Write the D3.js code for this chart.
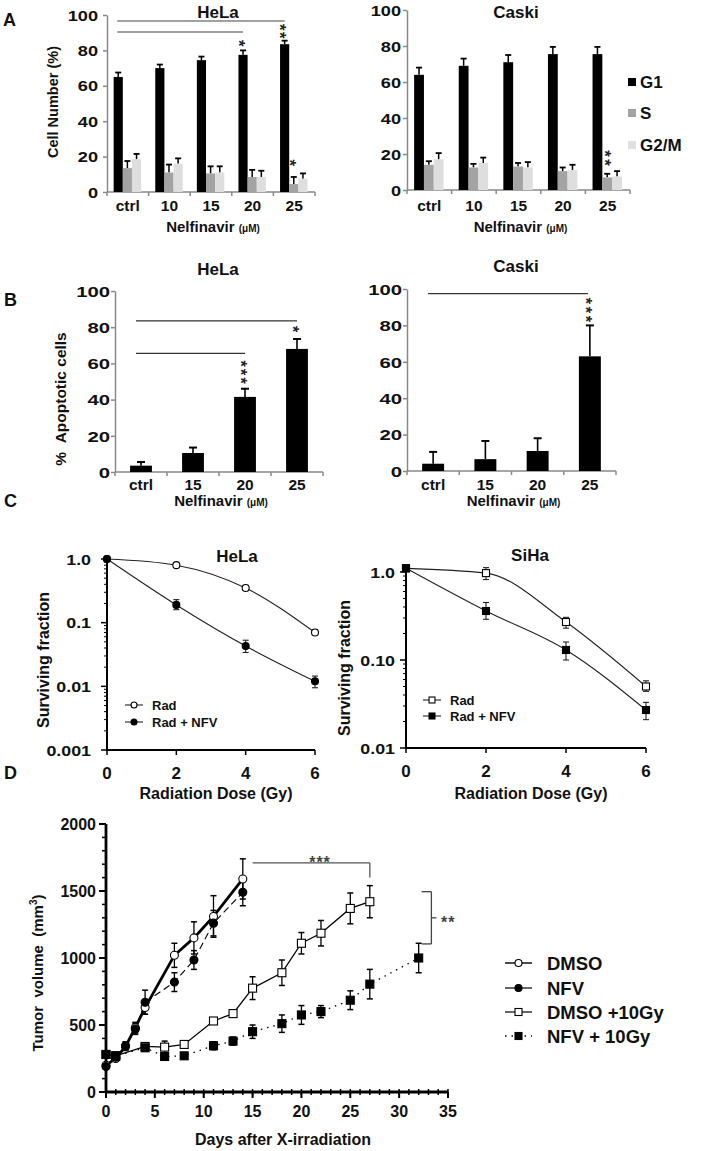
<!DOCTYPE html>
<html><head><meta charset="utf-8">
<script src="https://cdn.jsdelivr.net/npm/d3@7"></script>
<style>
body{margin:0;background:#fff}
text{font-family:"Liberation Sans",Arial,Helvetica,sans-serif;font-weight:bold;fill:#111}
</style>
</head><body>
<svg id="c" width="709" height="1151" xmlns="http://www.w3.org/2000/svg"></svg>
<script>
// ---------------- DATA ----------------
// Panel A: cell cycle
const cycleCats = ["ctrl","10","15","20","25"];
const phases = ["G1","S","G2/M"];
const cycleTicks = [0,20,40,60,80,100];
const helaG1 = [65,70,74.5,77.5,83.5];
const helaG1Err = [2.5,2,2,2.5,2];
const helaS = [13.5,11,10.5,8.5,4.5];
const helaSErr = [4,4.5,4,4,4];
const helaG2 = [18.5,16,11,8.5,7.5];
const helaG2Err = [3,3,3.5,3.5,3];
const caskiG1 = [64,69,71,75.5,75.5];
const caskiG1Err = [4,4,4,4,4];
const caskiS = [14,12.5,13,10.5,7];
const caskiSErr = [2,2,2,2,2];
const caskiG2 = [17,15,12.5,11,7.5];
const caskiG2Err = [3.5,3,3,3,3];
// Panel B: apoptosis
const apoCats = ["ctrl","15","20","25"];
const helaApo = [3.5,10.5,41.5,68];
const helaApoErr = [2,3,4.5,5.5];
const caskiApo = [4,6.5,11,63];
const caskiApoErr = [6.5,10,7,17];
// Panel C: survival
const doses = [0,2,4,6];
const helaRad = [1.0,0.80,0.35,0.07];
const helaRadLo = [1.0,0.76,0.32,0.065];
const helaRadHi = [1.0,0.85,0.385,0.078];
const helaNfv = [1.0,0.19,0.043,0.012];
const helaNfvLo = [1.0,0.16,0.034,0.0095];
const helaNfvHi = [1.0,0.23,0.053,0.0145];
const sihaRad = [1.1,0.97,0.27,0.05];
const sihaRadLo = [1.1,0.82,0.23,0.044];
const sihaRadHi = [1.1,1.12,0.305,0.058];
const sihaNfv = [1.1,0.36,0.13,0.027];
const sihaNfvLo = [1.1,0.29,0.10,0.021];
const sihaNfvHi = [1.1,0.45,0.16,0.033];
const helaSurvTicks = [1,0.1,0.01,0.001];
const helaSurvLabels = ["1.0","0.1","0.01","0.001"];
const sihaSurvTicks = [1,0.1,0.01];
const sihaSurvLabels = ["1.0","0.10","0.01"];
// Panel D: tumor volume
const dmsoDays = [0,1,2,3,4,7,9,11,14];
const dmsoVol = [200,250,340,480,630,1020,1150,1310,1590];
const dmsoErr = [15,20,30,40,50,90,120,155,150];
const nfvDays = [0,1,2,3,4,7,9,11,14];
const nfvVol = [190,260,345,470,670,820,985,1260,1490];
const nfvErr = [15,20,30,40,90,70,70,95,100];
const g10Days = [0,1,4,6,8,11,13,15,18,20,22,25,27];
const g10Vol = [280,270,340,335,355,530,585,775,890,1110,1185,1370,1420];
const g10Err = [20,15,25,45,25,15,15,85,95,80,95,115,120];
const n10Days = [0,1,4,6,8,11,13,15,18,20,22,25,27,32];
const n10Vol = [280,270,330,265,270,345,380,450,510,575,600,685,805,1000];
const n10Err = [20,15,25,20,15,30,30,50,65,70,45,70,110,110];
const volTicks = [0,500,1000,1500,2000];
const dayTicks = [0,5,10,15,20,25,30,35];

// ---------------- HELPERS ----------------
const svg = d3.select("#c");
function T(x,y,s,size,anchor){
  return svg.append("text").attr("x",x).attr("y",y).attr("font-size",size)
    .attr("text-anchor",anchor||"middle").text(s);
}
function RT(x,y,s,size){
  return svg.append("text").attr("transform",`translate(${x},${y}) rotate(-90)`)
    .attr("dy","0.35em").attr("font-size",size).attr("text-anchor","middle").text(s);
}
function L(x1,y1,x2,y2,col,w){
  return svg.append("line").attr("x1",x1).attr("y1",y1).attr("x2",x2).attr("y2",y2)
    .attr("stroke",col||"#000").attr("stroke-width",w||1);
}
// vertically stacked asterisks: one text run rotated 90deg; (x, yMid) = centre of the stack
function vstars(x,yMid,n,size,gap,col){
  const adv = 0.389*size;
  const ls = Math.max(0,gap-adv);
  svg.append("text").attr("transform",`translate(${x},${yMid}) rotate(90)`)
    .attr("x",ls/2).attr("y",0.6*size).attr("text-anchor","middle").attr("font-size",size)
    .attr("letter-spacing",ls).style("fill",col||"#222").text("*".repeat(n));
}
function stretchLabels(sel, sx, off){
  sel.selectAll(".tick text").each(function(){
    d3.select(this).attr("transform",`scale(${sx},1)`).attr("x",-off/sx);
  });
}
function nelf(x,y){
  const t = svg.append("text").attr("x",x).attr("y",y).attr("text-anchor","middle").attr("font-size",15);
  t.append("tspan").text("Nelfinavir ");
  t.append("tspan").attr("font-size",10).text("(\u03bcM)");
}

// ---------------- PANEL A ----------------
const phaseColors = ["#000000","#a3a3a3","#dedede"];
function cyclePanel(c){
  const x = d3.scaleBand().domain(cycleCats).range([c.x0,c.x1]);
  const y = d3.scaleLinear().domain([0,100]).range([c.yb,c.yt]);
  const bw = x.bandwidth();
  const inner = d3.scaleBand().domain(phases).range([bw*0.16,bw*0.82]);
  const ax = svg.append("g").attr("transform",`translate(${c.x0},0)`)
    .call(d3.axisLeft(y).tickValues(cycleTicks).tickSize(4).tickSizeOuter(0));
  ax.select(".domain").attr("stroke","#888").attr("stroke-width",1.5);
  ax.selectAll(".tick line").attr("stroke","#888").attr("stroke-width",1.5);
  ax.selectAll(".tick text").attr("font-size",14).attr("dy","0.36em");
  stretchLabels(ax,1.3,c.lab);
  L(c.x0,c.yb,c.x1,c.yb,"#888",1.5);
  for(let i=0;i<=cycleCats.length;i++){
    const xx = c.x0 + i*x.step();
    L(xx,c.yb,xx,c.yb+4,"#888",1.5);
  }
  cycleCats.forEach(cat=>T(x(cat)+bw/2,211,cat,15.5));
  const vals=[c.g1,c.s,c.g2], errs=[c.g1e,c.se,c.g2e];
  phases.forEach((p,k)=>{
    cycleCats.forEach((cat,i)=>{
      const bx = x(cat)+inner(p), w = inner.bandwidth();
      const v = vals[k][i], e = errs[k][i];
      const cx = bx+w/2;
      L(cx,y(v),cx,y(v+e),"#000",1.5);
      L(cx-3,y(v+e),cx+3,y(v+e),"#000",1.8);
      svg.append("rect").attr("x",bx).attr("y",y(v)).attr("width",w).attr("height",c.yb-y(v))
        .attr("fill",phaseColors[k]);
    });
  });
  T(c.tx,18,c.title,17);
  nelf((c.x0+c.x1)/2+2,232);
  return {x,y,inner,bw};
}
const aH = cyclePanel({x0:107,x1:315,yb:192,yt:15,lab:9,title:"HeLa",tx:218,
  g1:helaG1,g1e:helaG1Err,s:helaS,se:helaSErr,g2:helaG2,g2e:helaG2Err});
const aC = cyclePanel({x0:407,x1:630,yb:190,yt:10,lab:6,title:"Caski",tx:516,
  g1:caskiG1,g1e:caskiG1Err,s:caskiS,se:caskiSErr,g2:caskiG2,g2e:caskiG2Err});
RT(53,102,"Cell Number (%)",14.5);
T(3,26,"A",18,"start");
{
  const g1c = cat => aH.x(cat)+aH.inner("G1")+aH.inner.bandwidth()/2;
  const sc = cat => aH.x(cat)+aH.inner("S")+aH.inner.bandwidth()/2;
  L(g1c("ctrl")-1,aH.y(96.6),g1c("25"),aH.y(96.6),"#444",1.2);
  L(g1c("ctrl")-1,aH.y(90.4),g1c("20"),aH.y(90.4),"#444",1.2);
  vstars(g1c("20"),aH.y(84),1,17,8);
  vstars(g1c("25"),aH.y(90.8),2,17,8);
  vstars(sc("25"),aH.y(16.5),1,17,8);
}
{
  const sc = cat => aC.x(cat)+aC.inner("S")+aC.inner.bandwidth()/2;
  vstars(sc("25")+2,aC.y(17.8),2,17,9);
}
phases.forEach((p,k)=>{
  const yy = [82,113,145][k];
  svg.append("rect").attr("x",628).attr("y",yy-4).attr("width",8).attr("height",8).attr("fill",phaseColors[k]);
  T(640,yy+6,p,17,"start");
});

// ---------------- PANEL B ----------------
function apoPanel(c){
  const x = d3.scaleBand().domain(apoCats).range([c.x0,c.x1]).paddingInner(0.58).paddingOuter(0.29);
  const y = d3.scaleLinear().domain([0,100]).range([c.yb,c.yt]);
  const ax = svg.append("g").attr("transform",`translate(${c.x0},0)`)
    .call(d3.axisLeft(y).tickValues(cycleTicks).tickSize(4).tickSizeOuter(0));
  ax.select(".domain").attr("stroke","#888").attr("stroke-width",1.5);
  ax.selectAll(".tick line").attr("stroke","#888").attr("stroke-width",1.5);
  ax.selectAll(".tick text").attr("font-size",14.5).attr("dy","0.36em");
  stretchLabels(ax,1.4,c.lab);
  L(c.x0,c.yb,c.x1,c.yb,"#888",1.5);
  for(let i=0;i<=apoCats.length;i++){
    const xx = c.x0 + i*x.step();
    L(xx,c.yb,xx,c.yb+4,"#888",1.5);
  }
  apoCats.forEach((cat,i)=>{
    const v=c.v[i], e=c.e[i], cx=x(cat)+x.bandwidth()/2;
    L(cx,y(v),cx,y(v+e),"#000",1.6);
    L(cx-4,y(v+e),cx+4,y(v+e),"#000",2);
    svg.append("rect").attr("x",x(cat)).attr("y",y(v)).attr("width",x.bandwidth())
      .attr("height",c.yb-y(v)).attr("fill","#000");
    T(cx,490,cat,15.5);
  });
  T(c.tx,c.ty,c.title,17);
  nelf((c.x0+c.x1)/2+2,506);
  return {x,y,c:cat=>x(cat)+x.bandwidth()/2};
}
const bH = apoPanel({x0:115,x1:323,yb:472,yt:291,lab:5,v:helaApo,e:helaApoErr,title:"HeLa",tx:218,ty:275});
const bC = apoPanel({x0:407,x1:616,yb:471,yt:289,lab:5,v:caskiApo,e:caskiApoErr,title:"Caski",tx:516,ty:272});
RT(61,399,"%\u00a0\u00a0Apoptotic cells",15.5);
T(4,306,"B",18,"start");
L(bH.c("ctrl")-5,bH.y(83.5),bH.c("25"),bH.y(83.5),"#333",1.2);
L(bH.c("ctrl")-5,bH.y(65.5),bH.c("20"),bH.y(65.5),"#333",1.2);
vstars(bH.c("20"),bH.y(55.2),3,16,8.5);
vstars(bH.c("25"),bH.y(79),1,16,8.5);
L(bC.c("ctrl")-5,bC.y(97.5),bC.c("25")-2,bC.y(97.5),"#333",1.2);
vstars(bC.c("25"),bC.y(88.5),3,16,9);

// ---------------- PANEL C ----------------
function marker(cx,cy,shape,filled,size){
  if(shape==="circle"){
    svg.append("circle").attr("cx",cx).attr("cy",cy).attr("r",size/2)
      .attr("fill",filled?"#000":"#fff").attr("stroke","#000").attr("stroke-width",1.1);
  } else {
    svg.append("rect").attr("x",cx-size/2).attr("y",cy-size/2).attr("width",size).attr("height",size)
      .attr("fill",filled?"#000":"#fff").attr("stroke","#000").attr("stroke-width",1.1);
  }
}
function survPanel(c){
  const x = d3.scaleLinear().domain([0,6]).range([c.x0,c.x1]);
  const y = d3.scaleLog().domain(c.ydom).range([c.yb,c.yt]);
  L(c.x0,c.yb,c.x0,c.yt,"#000",2);
  L(c.x0-1,c.yb,c.x1,c.yb,"#000",2);
  c.ticks.forEach((v,i)=>{
    L(c.x0-6,y(v),c.x0,y(v),"#000",1.5);
    svg.append("text").attr("transform",`translate(${c.x0-c.lab},${y(v)}) scale(1.15,1)`)
      .attr("dy","0.36em").attr("font-size",15.5).attr("text-anchor","end").text(c.labels[i]);
  });
  const d0 = Math.round(Math.log10(c.ydom[0])), d1 = Math.ceil(Math.log10(c.ydom[1]));
  for(let d=d0; d<d1; d++){
    for(let m=2;m<=9;m++){
      const v = m*Math.pow(10,d);
      if(v<=c.ydom[1]) L(c.x0-3,y(v),c.x0,y(v),"#000",1);
    }
  }
  doses.forEach(d=>{
    L(x(d),c.yb,x(d),c.yb+5,"#000",1.5);
    T(x(d),c.xlabY,String(d),17);
  });
  T((c.x0+c.x1)/2+5,799,"Radiation Dose (Gy)",16);
  T(c.tx,c.ty,c.title,17);
  RT(c.ylx,c.yly,"Surviving fraction",16);
  c.series.forEach(s=>{
    const pts = doses.map((d,i)=>[x(d),y(s.v[i])]);
    svg.append("path").attr("d",d3.line().curve(d3.curveMonotoneX)(pts))
      .attr("fill","none").attr("stroke","#222").attr("stroke-width",1.1);
    doses.forEach((d,i)=>{
      if(s.hi[i]!==s.lo[i]){
        L(x(d),y(s.lo[i]),x(d),y(s.hi[i]),"#222",1.1);
        L(x(d)-3,y(s.lo[i]),x(d)+3,y(s.lo[i]),"#222",1.1);
        L(x(d)-3,y(s.hi[i]),x(d)+3,y(s.hi[i]),"#222",1.1);
      }
      marker(x(d),y(s.v[i]),s.shape,s.filled,c.ms);
    });
  });
  c.series.forEach((s,k)=>{
    const yy = c.legY[k];
    L(c.legX,yy,c.legX+18,yy,"#222",1.1);
    marker(c.legX+9,yy,s.shape,s.filled,c.ms*0.85);
    T(c.legX+27,yy+4.5,s.name,13,"start");
  });
}
survPanel({x0:107,x1:315,yb:750,yt:559,ydom:[0.001,1],ticks:helaSurvTicks,labels:helaSurvLabels,lab:16,
  xlabY:779,tx:237,ty:562,title:"HeLa",ylx:43,yly:660,ms:7,legX:125,legY:[705,722],
  series:[{name:"Rad",v:helaRad,lo:helaRadLo,hi:helaRadHi,shape:"circle",filled:false},
          {name:"Rad + NFV",v:helaNfv,lo:helaNfvLo,hi:helaNfvHi,shape:"circle",filled:true}]});
survPanel({x0:406,x1:646,yb:748,yt:565,ydom:[0.01,1.2],ticks:sihaSurvTicks,labels:sihaSurvLabels,lab:11,
  xlabY:777,tx:530,ty:561,title:"SiHa",ylx:344,yly:668,ms:7,legX:423,legY:[700,716],
  series:[{name:"Rad",v:sihaRad,lo:sihaRadLo,hi:sihaRadHi,shape:"square",filled:false},
          {name:"Rad + NFV",v:sihaNfv,lo:sihaNfvLo,hi:sihaNfvHi,shape:"square",filled:true}]});
T(4,507,"C",18,"start");
T(4,779,"D",18,"start");

// ---------------- PANEL D ----------------
{
  const x = d3.scaleLinear().domain([0,35]).range([106,448]);
  const y = d3.scaleLinear().domain([0,2000]).range([1092,824]);
  const X0 = x(0), Y0 = y(0);
  for(let d=0; d<=35; d++) L(x(d),Y0-3,x(d),Y0+3,"#000",1.5);
  for(let v=0; v<=2000; v+=100) L(X0-4,y(v),X0,y(v),"#000",1.5);
  dayTicks.forEach(d=>{ L(x(d),Y0,x(d),Y0+6,"#000",2); T(x(d),1117,String(d),16); });
  volTicks.forEach(v=>{
    L(X0-7,y(v),X0,y(v),"#000",2);
    T(X0-10,y(v)+5.5,String(v),16,"end");
  });
  L(X0,Y0,X0,y(2000),"#000",2.8);
  L(X0-1,Y0,x(35),Y0,"#000",2.8);
  T(283,1145,"Days after X-irradiation",16);
  const yl = svg.append("text").attr("transform","translate(38,973) rotate(-90)").attr("dy","0.35em")
    .attr("font-size",15).attr("text-anchor","middle");
  yl.append("tspan").text("Tumor\u00a0\u00a0volume\u00a0\u00a0(mm");
  yl.append("tspan").attr("font-size",10).attr("dy","-6").text("3");
  yl.append("tspan").attr("dy","6").text(")");

  const groups = [
    {name:"DMSO",days:dmsoDays,v:dmsoVol,e:dmsoErr,shape:"circle",filled:false,w:2.8,dash:null,legW:1.4},
    {name:"NFV",days:nfvDays,v:nfvVol,e:nfvErr,shape:"circle",filled:true,w:1.1,dash:"7,4",legW:1.2,legDash:null},
    {name:"DMSO +10Gy",days:g10Days,v:g10Vol,e:g10Err,shape:"square",filled:false,w:1.3,dash:null,legW:1.2},
    {name:"NFV + 10Gy",days:n10Days,v:n10Vol,e:n10Err,shape:"square",filled:true,w:1.3,dash:"1.5,5",legW:1.3,legDash:"1.5,5"}
  ];
  groups.forEach(g=>{
    const pts = g.days.map((d,i)=>[x(d),y(g.v[i])]);
    const p = svg.append("path").attr("d",d3.line()(pts)).attr("fill","none")
      .attr("stroke","#000").attr("stroke-width",g.w);
    if(g.dash) p.attr("stroke-dasharray",g.dash);
  });
  groups.forEach(g=>{
    g.days.forEach((d,i)=>{
      const xx=x(d), lo=y(g.v[i]-g.e[i]), hi=y(g.v[i]+g.e[i]);
      L(xx,lo,xx,hi,"#000",1.3);
      L(xx-3,lo,xx+3,lo,"#000",1.5);
      L(xx-3,hi,xx+3,hi,"#000",1.5);
    });
  });
  groups.forEach(g=>{
    g.days.forEach((d,i)=>marker(x(d),y(g.v[i]),g.shape,g.filled,8));
  });
  L(x(15),y(1710),x(27),y(1710),"#555",1.3);
  L(x(27),y(1710),x(27),y(1600),"#555",1.3);
  T(320,868,"***",16).style("fill","#444").attr("letter-spacing","1");
  L(x(32.3),y(1495),x(33.3),y(1495),"#444",1.3);
  L(x(33.3),y(1495),x(33.3),y(1105),"#444",1.3);
  L(x(32.3),y(1105),x(33.3),y(1105),"#444",1.3);
  L(x(33.3),y(1300),x(33.3)+5,y(1300),"#444",1.3);
  T(441,928,"**",16,"start").style("fill","#444").attr("letter-spacing","1");
  const legY=[963,988,1012,1036];
  groups.forEach((g,k)=>{
    const l = L(505,legY[k],532,legY[k],"#000",g.legW);
    if(g.legDash) l.attr("stroke-dasharray",g.legDash);
    marker(518.5,legY[k],g.shape,g.filled,7);
    T(547,legY[k]+7,g.name,18.5,"start");
  });
}
</script>
</body></html>
